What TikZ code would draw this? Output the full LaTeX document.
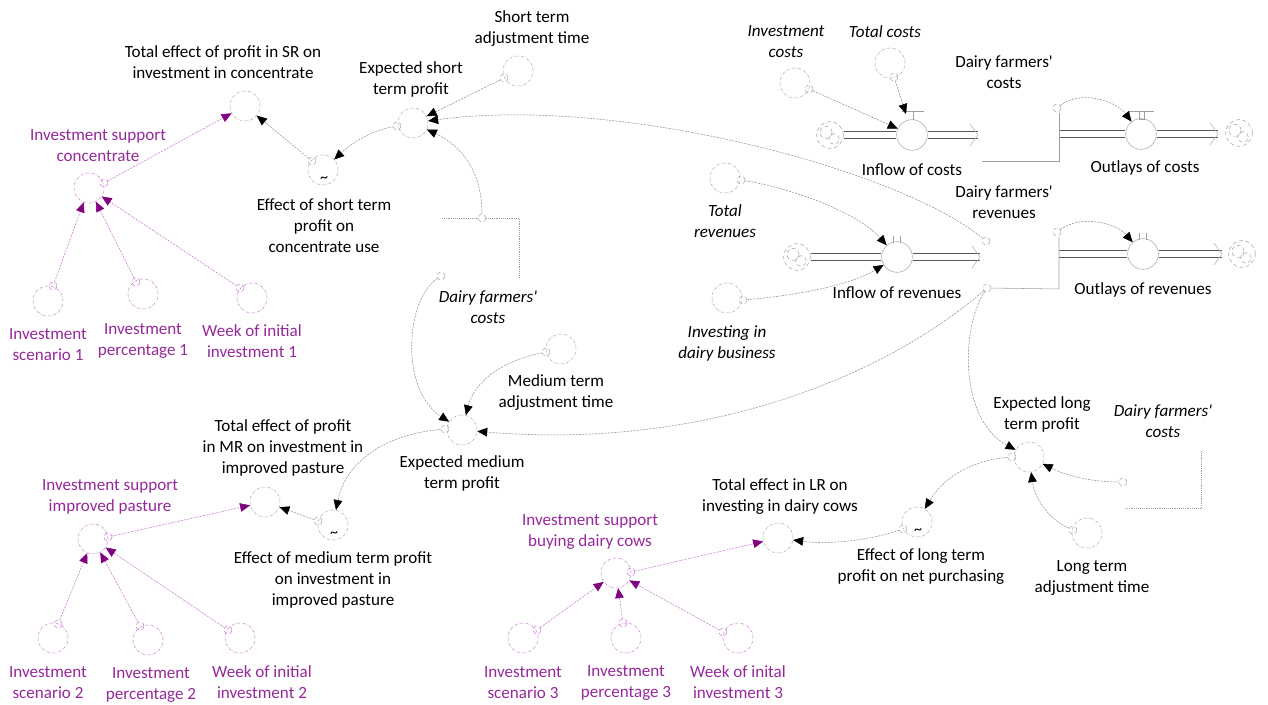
\documentclass[tikz,border=0pt]{standalone}
\usepackage{fontspec}
\setmainfont{Carlito}[Ligatures=TeXOff]
\usetikzlibrary{arrows.meta}
\definecolor{vpurple}{RGB}{150,40,155}
\definecolor{vlight}{RGB}{200,120,210}
\definecolor{vtip}{RGB}{128,0,128}
\tikzset{
  every node/.style={font=\fontsize{12.8}{15.75}\selectfont},
  var/.style={circle,draw=gray!70,dash pattern=on 2pt off 1pt on 0.4pt off 1pt,minimum size=22.5pt,inner sep=0pt},
  pvar/.style={var,draw=vlight},
  valve/.style={circle,draw=gray!70,minimum size=23pt,inner sep=0pt},
  srcdot/.style={circle,draw=gray!70,densely dashed,minimum size=6pt,inner sep=0pt},
  psrcdot/.style={srcdot,draw=vlight},
  puff/.style={circle,draw=gray!70,densely dashed,minimum size=20pt,inner sep=0pt,
    path picture={\draw[gray!70,densely dashed]
      ([shift={(-3pt,2pt)}]path picture bounding box.center) circle[radius=4.5pt]
      ([shift={(3pt,-3pt)}]path picture bounding box.center) circle[radius=4pt];}},
  lbl/.style={align=center,text=black},
  plbl/.style={align=center,text=vpurple},
  ghost/.style={align=center,font=\fontsize{12.8}{15.75}\selectfont\itshape},
  link/.style={draw=gray!85,line width=0.4pt,dash pattern=on 1.6pt off 0.8pt,-{Triangle[length=7.5pt,width=6.5pt,color=black]}},
  plink/.style={link,draw=vlight,-{Triangle[length=7.5pt,width=6.5pt,color=vtip]}},
  flowpipe/.style={draw=gray!70!black,line width=0.45pt},
  rim/.style={draw=gray!75,line width=0.4pt},
  chev/.style={draw=gray!60,line width=0.4pt},
  tilde/.style={inner sep=0pt,font=\large},
}

\begin{document}
\begin{tikzpicture}[x=0.75pt,y=-0.75pt]
\useasboundingbox (0,0) rectangle (1268,705);

% short run: concentrate
\node[var] (totsr) at (245,106) {};
\node[lbl] (totsrL) at (223,62.5) {Total effect of profit in SR on\\investment in concentrate};
\node[var] (expst) at (413,123) {};
\node[lbl] (expstL) at (411,79.5) {Expected short\\term profit};
\node[var] (stadj) at (518,71) {};
\node[lbl] (stadjL) at (532,28.5) {Short term\\adjustment time};
\node[var] (effst) at (323,170) {};
\node[tilde] (effstT) at (324,180) {\textasciitilde};
\node[lbl] (effstL) at (324,225.5) {Effect of short term\\profit on\\concentrate use};
\node[pvar] (supconc) at (89,188) {};
\node[plbl] (supconcL) at (98,145.5) {Investment support\\concentrate};
\node[pvar] (scen1) at (48,301) {};
\node[plbl] (scen1L) at (48,345) {Investment\\scenario 1};
\node[pvar] (pct1) at (143,294) {};
\node[plbl] (pct1L) at (143,340.5) {Investment\\percentage 1};
\node[pvar] (week1) at (252,298) {};
\node[plbl] (week1L) at (252,341.5) {Week of initial\\investment 1};

% medium run: improved pasture
\node[var] (mtadj) at (561,349) {};
\node[lbl] (mtadjL) at (556,392.5) {Medium term\\adjustment time};
\node[var] (expmt) at (462,430) {};
\node[lbl] (expmtL) at (462,473.5) {Expected medium\\term profit};
\node[var] (totmr) at (265,502) {};
\node[lbl] (totmrL) at (283,448) {Total effect of profit\\in MR on investment in\\improved pasture};
\node[var] (effmt) at (333,525) {};
\node[tilde] (effmtT) at (334,535) {\textasciitilde};
\node[lbl] (effmtL) at (333,580) {Effect of medium term profit\\on investment in\\improved pasture};
\node[pvar] (suppast) at (93,539) {};
\node[plbl] (suppastL) at (110,496.5) {Investment support\\improved pasture};
\node[pvar] (scen2) at (53,638) {};
\node[plbl] (scen2L) at (48,682.5) {Investment\\scenario 2};
\node[pvar] (pct2) at (148,640) {};
\node[plbl] (pct2L) at (151,684.5) {Investment\\percentage 2};
\node[pvar] (week2) at (240,638) {};
\node[plbl] (week2L) at (262,682.5) {Week of initial\\investment 2};

% long run: dairy cows
\node[pvar] (supcows) at (616,573) {};
\node[plbl] (supcowsL) at (590,531.5) {Investment support\\buying dairy cows};
\node[pvar] (scen3) at (523,638) {};
\node[plbl] (scen3L) at (523,682.5) {Investment\\scenario 3};
\node[pvar] (pct3) at (626,638) {};
\node[plbl] (pct3L) at (626,682.5) {Investment\\percentage 3};
\node[pvar] (week3) at (738,638) {};
\node[plbl] (week3L) at (738,682.5) {Week of inital\\investment 3};
\node[var] (totlr) at (778,538) {};
\node[lbl] (totlrL) at (780,496.5) {Total effect in LR on\\investing in dairy cows};
\node[var] (efflt) at (917,522) {};
\node[tilde] (effltT) at (918,532) {\textasciitilde};
\node[lbl] (effltL) at (921,566.5) {Effect of long term\\profit on net purchasing};
\node[var] (explt) at (1029,457) {};
\node[lbl] (expltL) at (1042,414.5) {Expected long\\term profit};
\node[var] (ltadj) at (1087,533) {};
\node[lbl] (ltadjL) at (1092,578) {Long term\\adjustment time};

% ghosts of the stocks
\node[ghost] (ghost1L) at (488,307.5) {Dairy farmers'\\costs};
\node[ghost] (ghost3L) at (1163,421) {Dairy farmers'\\costs};

% costs and revenues stocks and flows
\node[var] (invcost) at (795,83) {};
\node[ghost] (invcostL) at (786,41.5) {Investment\\costs};
\node[var] (totcost) at (890,63) {};
\node[ghost] (totcostL) at (885,32) {Total costs};
\node[var] (totrev) at (725,178) {};
\node[ghost] (totrevL) at (725,221.5) {Total\\revenues};
\node[var] (investing) at (727,298) {};
\node[ghost] (investingL) at (727,343.5) {Investing in\\dairy business};

\node[puff] (cinc) at (830,135) {};
\node[valve] (vinc) at (912,135) {};
\node[lbl] (vincL) at (912,170) {Inflow of costs};
\node[lbl] (costsL) at (1004,72.5) {Dairy farmers'\\costs};
\node[valve] (voutc) at (1141,134) {};
\node[lbl] (voutcL) at (1145,168) {Outlays of costs};
\node[puff] (coutc) at (1239,133) {};

\node[puff] (cinr) at (797,257) {};
\node[valve] (vinr) at (897,257) {};
\node[lbl] (vinrL) at (897,293) {Inflow of revenues};
\node[lbl] (revsL) at (1004,202.5) {Dairy farmers'\\revenues};
\node[valve] (voutr) at (1143,254) {};
\node[lbl] (voutrL) at (1143,290) {Outlays of revenues};
\node[puff] (coutr) at (1242,254) {};

% pipes (two rails each)
\coordinate (endinc) at (978,135);
\coordinate (stkc) at (1059,134);
\coordinate (endoutc) at (1218,134);
\coordinate (endinr) at (980,257);
\coordinate (stkr) at (1059,254);
\coordinate (endoutr) at (1222,254);
\foreach \o in {-2.5,2.5}{
  \draw[flowpipe] ([yshift=\o]cinc.east) -- ([yshift=\o]vinc.west);
  \draw[flowpipe] ([yshift=\o]vinc.east) -- ([yshift=\o]endinc);
  \draw[flowpipe] ([yshift=\o]stkc) -- ([yshift=\o]voutc.west);
  \draw[flowpipe] ([yshift=\o]voutc.east) -- ([yshift=\o]endoutc);
  \draw[flowpipe] ([yshift=\o]cinr.east) -- ([yshift=\o]vinr.west);
  \draw[flowpipe] ([yshift=\o]vinr.east) -- ([yshift=\o]endinr);
  \draw[flowpipe] ([yshift=\o]stkr) -- ([yshift=\o]voutr.west);
  \draw[flowpipe] ([yshift=\o]voutr.east) -- ([yshift=\o]endoutr);
}
\foreach \e in {endinc,endoutc,endinr,endoutr}
  \draw[chev] (\e) ++(-8,-11) -- (\e) -- ++(-8,11);
\draw[rim] (902,111) -- (924,111) (913,111) -- (913,120);
\draw[rim] (1128,111) -- (1154,111) (1139,111) rectangle (1144,119);
\draw[rim] (893,236) -- (893,243) (900,236) -- (900,243);
\draw[rim] (1139,233) -- (1139,240) (1146,233) -- (1146,240);

% source dots
\node[srcdot] (d-effst) at (312,161) {};
\node[srcdot] (d-expst) at (397,126) {};
\node[srcdot] (d-stadj) at (504,78) {};
\node[srcdot] (d-ghost1) at (482,218) {};
\node[srcdot] (d-ghost2) at (441,276) {};
\node[srcdot] (d-mtadj) at (546,352) {};
\node[srcdot] (d-expmt) at (445,429) {};
\node[srcdot] (d-effmt) at (318,521) {};
\node[srcdot] (d-efflt) at (903,529) {};
\node[srcdot] (d-explt) at (1012,457) {};
\node[srcdot] (d-ltadj) at (1073,530) {};
\node[srcdot] (d-ghost3) at (1123,482) {};
\node[srcdot] (d-invcost) at (809,89) {};
\node[srcdot] (d-totcost) at (894,77) {};
\node[srcdot] (d-totrev) at (741,180) {};
\node[srcdot] (d-investing) at (743,300) {};
\node[srcdot] (d-revA) at (986,241) {};
\node[srcdot] (d-revB) at (987,288) {};
\node[srcdot] (d-costs) at (1057,108) {};
\node[srcdot] (d-revs) at (1057,232) {};
\node[psrcdot] (d-supconc) at (104,183) {};
\node[psrcdot] (d-scen1) at (53,286) {};
\node[psrcdot] (d-pct1) at (136,282) {};
\node[psrcdot] (d-week1) at (240,288) {};
\node[psrcdot] (d-suppast) at (108,537) {};
\node[psrcdot] (d-scen2) at (58,624) {};
\node[psrcdot] (d-pct2) at (140,626) {};
\node[psrcdot] (d-week2) at (228,630) {};
\node[psrcdot] (d-supcows) at (631,572) {};
\node[psrcdot] (d-scen3) at (537,630) {};
\node[psrcdot] (d-pct3) at (623,623) {};
\node[psrcdot] (d-week3) at (723,632) {};

% stock outlines
\draw[rim] (982,161) -- (1059,161) -- (1059,113);
\draw[rim] (d-revB) -- (1059,289) -- (1059,237);
\draw[rim,densely dotted] (442,218) -- (d-ghost1) -- (519,218) -- (519,277);
\draw[rim,densely dotted] (1125,508) -- (1201,508) -- (1201,450);

% links
\draw[plink] (d-supconc) -- (totsr);
\draw[link] (d-effst) -- (totsr);
\draw[link] (d-expst) .. controls (375,130) and (355,140) .. (effst);
\draw[link] (d-stadj) -- (expst);
\draw[link] (d-revA) .. controls (900,170) and (620,95) .. (expst);
\draw[link] (d-ghost1) .. controls (482,170) and (460,145) .. (expst);
\draw[link] (d-ghost2) .. controls (405,300) and (400,390) .. (expmt);
\draw[link] (d-mtadj) .. controls (505,360) and (475,380) .. (expmt);
\draw[link] (d-revB) .. controls (880,380) and (700,450) .. (expmt);
\draw[link] (d-expmt) .. controls (380,435) and (345,465) .. (effmt);
\draw[link] (d-effmt) -- (totmr);
\draw[plink] (d-suppast) -- (totmr);
\draw[link] (d-revB) .. controls (960,330) and (960,420) .. (explt);
\draw[link] (d-explt) .. controls (975,460) and (945,475) .. (efflt);
\draw[link] (d-ghost3) .. controls (1090,482) and (1065,475) .. (explt);
\draw[link] (d-ltadj) .. controls (1050,520) and (1035,500) .. (explt);
\draw[link] (d-efflt) .. controls (870,540) and (830,545) .. (totlr);
\draw[plink] (d-supcows) -- (totlr);
\coordinate (vincbar) at (906,114);
\draw[link] (d-invcost) -- (vinc);
\draw[link] (d-totcost) -- (vincbar);
\draw[link] (d-totrev) .. controls (800,190) and (860,215) .. (vinr);
\draw[link] (d-investing) .. controls (800,295) and (850,285) .. (vinr);
\draw[link] (d-costs) .. controls (1080,90) and (1115,100) .. (voutc);
\draw[link] (d-revs) .. controls (1080,215) and (1115,222) .. (voutr);
\foreach \s in {scen1,pct1,week1}
  \draw[plink] (d-\s) -- (supconc);
\foreach \s in {scen2,pct2,week2}
  \draw[plink] (d-\s) -- (suppast);
\foreach \s in {scen3,pct3,week3}
  \draw[plink] (d-\s) -- (supcows);
\end{tikzpicture}
\end{document}
